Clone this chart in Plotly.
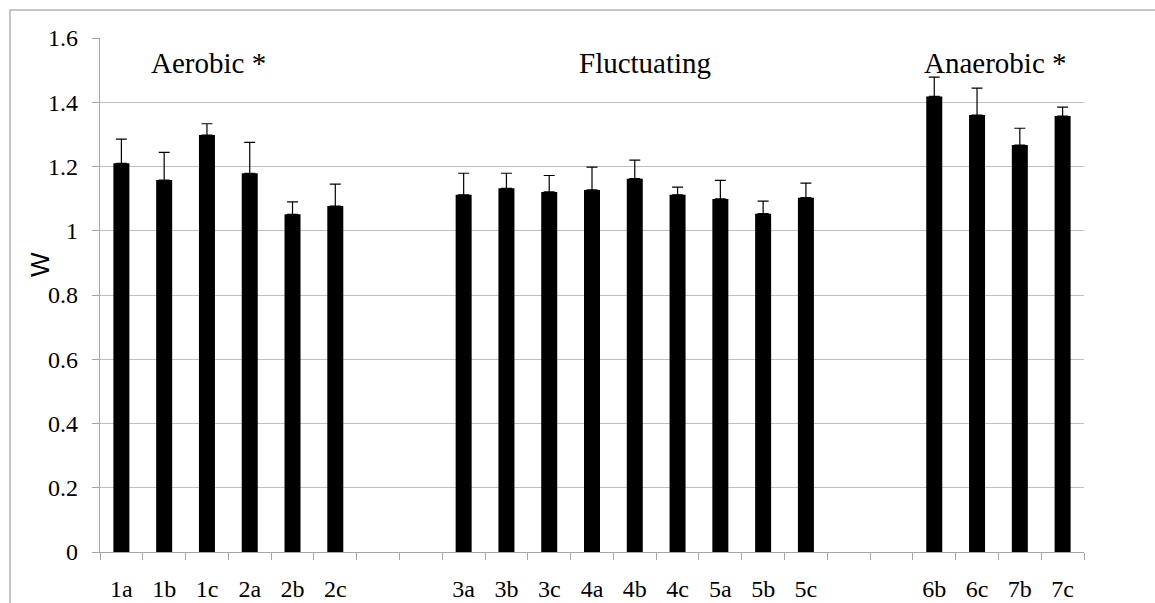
import plotly.graph_objects as go

categories = ["1a", "1b", "1c", "2a", "2b", "2c",
              "3a", "3b", "3c", "4a", "4b", "4c", "5a", "5b", "5c",
              "6b", "6c", "7b", "7c"]
values = [1.210, 1.158, 1.298, 1.179, 1.051, 1.077,
          1.112, 1.132, 1.121, 1.127, 1.162, 1.112, 1.099, 1.053, 1.103,
          1.418, 1.360, 1.267, 1.357]
err_plus = [0.075, 0.086, 0.035, 0.096, 0.039, 0.068,
            0.067, 0.047, 0.051, 0.071, 0.058, 0.024, 0.058, 0.039, 0.045,
            0.060, 0.084, 0.052, 0.028]
# axis order, including blank spacer slots between groups
category_order = ["1a", "1b", "1c", "2a", "2b", "2c", " ", "  ",
                  "3a", "3b", "3c", "4a", "4b", "4c", "5a", "5b", "5c", "   ", "    ",
                  "6b", "6c", "7b", "7c"]
group_labels = ["Aerobic *", "Fluctuating", "Anaerobic *"]
group_label_x = [0.1098, 0.554, 0.9096]
y_ticks = [0, 0.2, 0.4, 0.6, 0.8, 1, 1.2, 1.4, 1.6]
y_tick_text = ["0", "0.2", "0.4", "0.6", "0.8", "1", "1.2", "1.4", "1.6"]

W, H = 1155, 603
L, R, T, B = 100, 71, 38, 51
pw, ph = W - L - R, H - T - B

serif = "Liberation Serif"

fig = go.Figure()
fig.add_trace(go.Bar(
    x=categories, y=values,
    marker=dict(color="#000000", line=dict(width=0)),
    error_y=dict(type="data", symmetric=False, array=err_plus,
                 arrayminus=[0] * len(err_plus),
                 color="#000000", thickness=1.2, width=5.5),
    showlegend=False,
))

annotations = []
for lab, gx in zip(group_labels, group_label_x):
    annotations.append(dict(text=lab, x=gx, xref="paper", y=1.523, yref="y",
                            xanchor="center", yanchor="middle", showarrow=False,
                            font=dict(family=serif, size=29, color="#000000")))
annotations.append(dict(text="W", x=(40 - L) / pw, y=(H - B - 265) / ph,
                        xref="paper", yref="paper", textangle=-90,
                        xanchor="center", yanchor="middle", showarrow=False,
                        font=dict(family="Liberation Sans", size=26,
                                  color="#000000")))

fig.update_layout(
    width=W, height=H,
    margin=dict(l=L, r=R, t=T, b=B, pad=0, autoexpand=False),
    paper_bgcolor="white", plot_bgcolor="white",
    font=dict(family=serif),
    bargap=0.626,
    annotations=annotations,
    shapes=[dict(type="rect", xref="paper", yref="paper",
                 x0=(10 - L) / pw, x1=(1170 - L) / pw,
                 y0=(H - B - 620) / ph, y1=(H - B - 10) / ph,
                 line=dict(color="#b3b3b3", width=1.5), fillcolor="rgba(0,0,0,0)",
                 layer="below")],
    xaxis=dict(type="category", categoryorder="array", categoryarray=category_order,
               range=[-0.5, len(category_order) - 0.5], automargin=False,
               showgrid=False, showline=True, linecolor="#a6a6a6", linewidth=1.3,
               ticks="outside", ticklen=7, tickcolor="#a6a6a6", tickwidth=1.3,
               tickson="boundaries", ticklabelstandoff=15,
               tickfont=dict(family=serif, size=24, color="#000000"),
               zeroline=False, fixedrange=True),
    yaxis=dict(range=[0, 1.6], tickvals=y_ticks, ticktext=y_tick_text, automargin=False,
               showgrid=True, gridcolor="#bfbfbf", gridwidth=1.3,
               showline=True, linecolor="#a6a6a6", linewidth=1.3,
               ticks="outside", ticklen=7, tickcolor="#a6a6a6", tickwidth=1.3,
               ticklabelstandoff=9,
               tickfont=dict(family=serif, size=24, color="#000000"),
               zeroline=False, fixedrange=True),
)

fig.write_html("out.html")
